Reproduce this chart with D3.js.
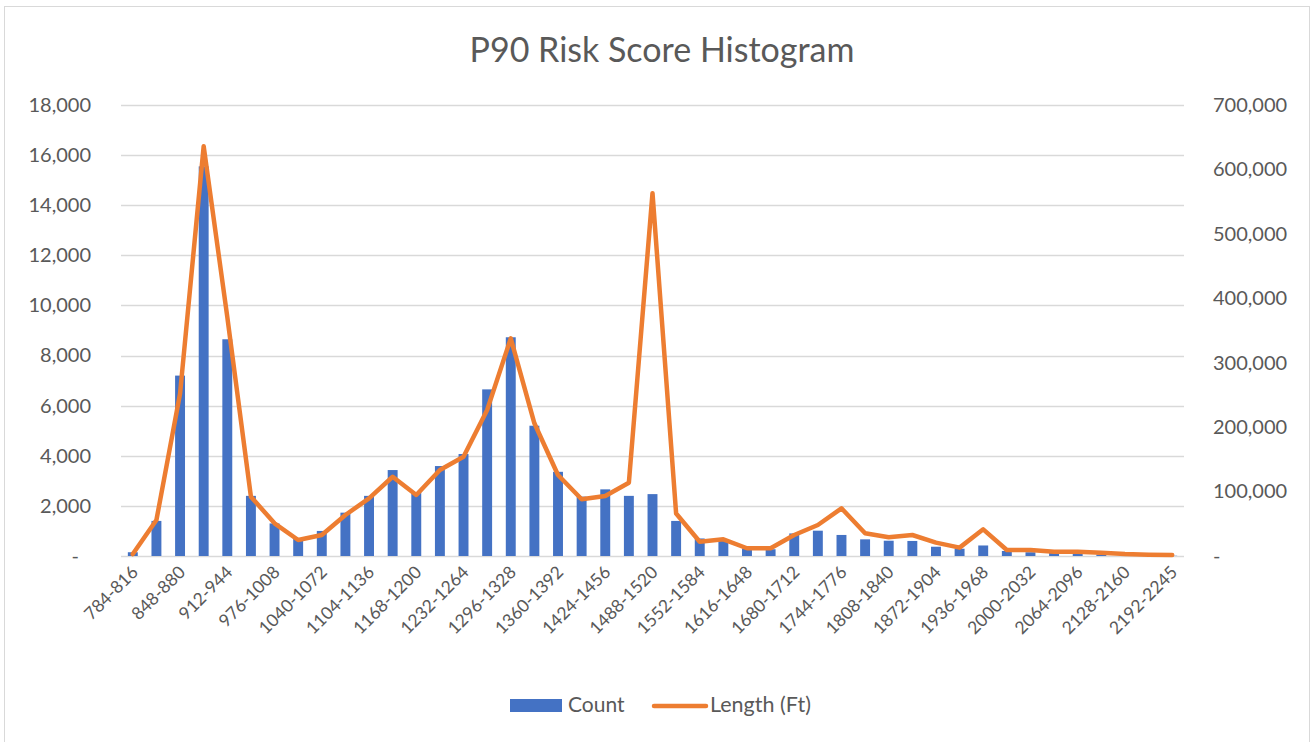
<!DOCTYPE html>
<html>
<head>
<meta charset="utf-8">
<script src="https://cdn.jsdelivr.net/npm/d3@7"></script>
<style>
  body { margin: 0; background: #fff; }
  text { font-family: Lato, "Open Sans", sans-serif; fill: #595959; }
</style>
</head>
<body>
<div id="chart"></div>
<script>
// bins of the P90 risk score (32 wide, last one wider)
const binStarts = d3.range(784, 2192 + 1, 32);
const bins = binStarts.map(s => s + "-" + (s === 2192 ? 2245 : s + 32));

// Count per bin (left axis)
const counts = [150, 1400, 7200, 15550, 8650, 2400, 1300, 700, 1000, 1730,
  2400, 3430, 2550, 3590, 4070, 6650, 8730, 5200, 3360, 2370,
  2660, 2400, 2470, 1400, 700, 610, 300, 270, 900, 1010,
  840, 665, 610, 600, 370, 290, 420, 200, 150, 120,
  80, 60, 30, 15, 10];

// Length (Ft) per bin (right axis)
const lengths = [3000, 55900, 252000, 636000, 371000, 92000, 50700, 24800, 32600, 63600,
  89500, 123000, 94700, 133500, 154000, 226600, 337800, 206000, 125700, 88000,
  93100, 113800, 563000, 66000, 22200, 25900, 12000, 12000, 32600, 48100,
  74000, 35200, 29000, 32600, 20700, 13000, 41400, 9300, 9300, 6700,
  6700, 5000, 3000, 2000, 1500];

const leftTicks = d3.range(0, 18001, 2000);
const rightTicks = d3.range(0, 700001, 100000);

const W = 1313, H = 742;
const margin = { top: 105, right: 129, bottom: 186, left: 121 };
const width = W - margin.left - margin.right,
  height = H - margin.top - margin.bottom,
  blue = "#4472C4",
  orange = "#ED7D31",
  grid = "#D9D9D9";

const svg = d3.select("#chart").append("svg")
  .attr("width", W)
  .attr("height", H);

// chart area border
svg.append("rect")
  .attr("x", 4.5).attr("y", 6.5)
  .attr("width", 1305).attr("height", 740)
  .attr("fill", "#fff")
  .attr("stroke", grid);

svg.append("text")
  .attr("x", 662).attr("y", 62)
  .attr("text-anchor", "middle")
  .style("font-size", "34px")
  .text("P90 Risk Score Histogram");

const g = svg.append("g")
  .attr("transform", "translate(" + margin.left + "," + margin.top + ")");

const x = d3.scaleBand().domain(bins).range([0, width]).paddingInner(0.58).paddingOuter(0.29);
const y = d3.scaleLinear().domain([0, 18000]).range([height, 0]);
const y2 = d3.scaleLinear().domain([0, 700000]).range([height, 0]);

const fmt = v => v === 0 ? "-" : d3.format(",")(v);

// gridlines
g.append("g")
  .selectAll("line")
  .data(leftTicks)
  .enter()
  .append("line")
  .attr("x1", 0).attr("x2", width)
  .attr("y1", d => Math.round(y(d)) + 0.5)
  .attr("y2", d => Math.round(y(d)) + 0.5)
  .attr("stroke", grid)
  .attr("stroke-width", 1.3);

// left axis
const yAxis = d3.axisLeft(y).tickValues(leftTicks).tickFormat(fmt).tickSize(0).tickPadding(30);
g.append("g").call(yAxis)
  .call(a => a.select(".domain").remove())
  .selectAll("text")
  .style("font-size", "20px")
  .attr("fill", "#595959")
  .attr("dx", d => d === 0 ? "-12px" : 0);

// right axis
const yAxis2 = d3.axisRight(y2).tickValues(rightTicks).tickFormat(fmt).tickSize(0).tickPadding(29);
g.append("g")
  .attr("transform", "translate(" + width + ",0)")
  .call(yAxis2)
  .call(a => a.select(".domain").remove())
  .selectAll("text")
  .style("font-size", "20px")
  .attr("fill", "#595959");

// bars
g.append("g")
  .selectAll("rect")
  .data(counts)
  .enter()
  .append("rect")
  .attr("x", (d, i) => x(bins[i]))
  .attr("width", x.bandwidth())
  .attr("y", d => y(d))
  .attr("height", d => height - y(d))
  .attr("fill", blue);

// x labels, every other bin
g.append("g")
  .selectAll("text")
  .data(bins.filter((d, i) => i % 2 === 0))
  .enter()
  .append("text")
  .attr("transform", d => "translate(" + (x(d) + x.bandwidth() / 2 + 2) + "," + (height + 13) + ") rotate(-45)")
  .attr("text-anchor", "end")
  .attr("dy", "0.35em")
  .style("font-size", "17.5px")
  .text(d => d);

// line
const line = d3.line()
  .x((d, i) => x(bins[i]) + x.bandwidth() / 2)
  .y(d => y2(d));

g.append("path")
  .datum(lengths)
  .attr("d", line)
  .attr("fill", "none")
  .attr("stroke", orange)
  .attr("stroke-width", 4.5)
  .attr("stroke-linejoin", "round")
  .attr("stroke-linecap", "round");

// legend
const legend = svg.append("g");
legend.append("rect")
  .attr("x", 510).attr("y", 699)
  .attr("width", 52).attr("height", 13)
  .attr("fill", blue);
legend.append("text")
  .attr("x", 568).attr("y", 712)
  .style("font-size", "21px")
  .text("Count");
legend.append("line")
  .attr("x1", 654).attr("x2", 706)
  .attr("y1", 706).attr("y2", 706)
  .attr("stroke", orange)
  .attr("stroke-width", 4.5)
  .attr("stroke-linecap", "round");
legend.append("text")
  .attr("x", 710).attr("y", 712)
  .style("font-size", "21.5px")
  .text("Length (Ft)");
</script>
</body>
</html>
